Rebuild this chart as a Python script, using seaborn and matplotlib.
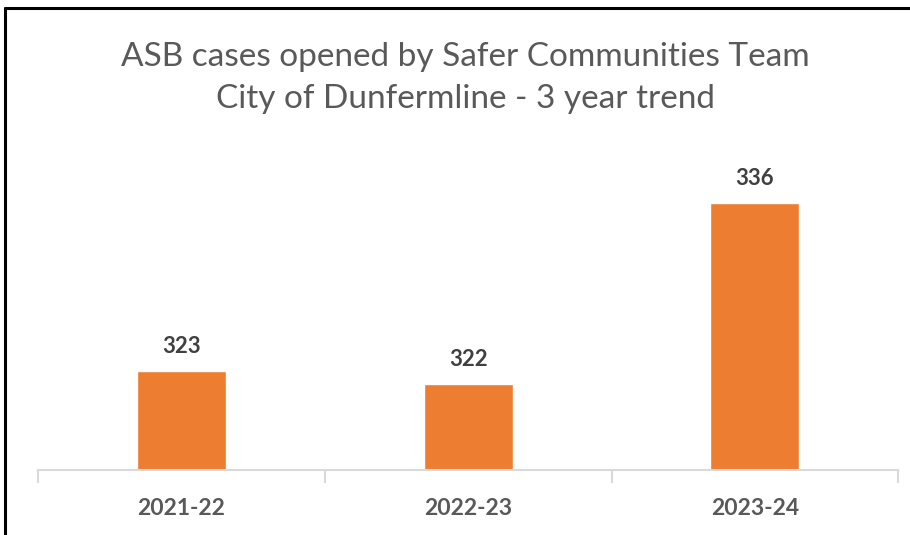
import numpy as np
import pandas as pd
import matplotlib
matplotlib.use("Agg")
import matplotlib.pyplot as plt
from matplotlib.lines import Line2D
import seaborn as sns

years = ["2021-22", "2022-23", "2023-24"]
cases = [323, 322, 336]
title = "ASB cases opened by Safer Communities Team\nCity of Dunfermline - 3 year trend"

sns.set_style("white")
plt.rcParams["font.family"] = ["Lato", "DejaVu Sans"]

df = pd.DataFrame({"year": years, "cases": cases})

fig = plt.figure(figsize=(9.1, 5.35), dpi=100)
ax = fig.add_axes([0.042, 0.1215, 0.945, 0.597])
sns.barplot(data=df, x="year", y="cases", color="#ED7D31", width=0.31,
            saturation=1, ax=ax)

ax.set_ylim(315.4, 340)
ax.set_xlim(-0.5, 2.5)
ax.bar_label(ax.containers[0], padding=10, fontsize=16, fontweight="bold",
             color="#404040")

ax.set_xlabel("")
ax.set_ylabel("")
ax.set_yticks([])
for s in ["top", "right", "left"]:
    ax.spines[s].set_visible(False)
ax.spines["bottom"].set_color("#D9D9D9")
ax.spines["bottom"].set_linewidth(1.5)

ax.set_xticks([-0.5, 0.5, 1.5, 2.5], minor=True)
ax.tick_params(axis="x", which="minor", bottom=True, length=9, width=1.5,
               color="#D9D9D9")
ax.tick_params(axis="x", which="major", bottom=False, length=0, pad=20,
               labelsize=16.5, labelcolor="#595959")
for lab in ax.get_xticklabels():
    lab.set_fontweight("bold")

fig.text(0.511, 0.855, title, ha="center", va="center", fontsize=24,
         color="#595959", linespacing=1.5)

# frame of the pasted chart
fig.add_artist(Line2D([0.006, 0.006], [0, 0.985], color="black", lw=2.2,
                      transform=fig.transFigure))
fig.add_artist(Line2D([0.006, 1], [0.985, 0.985], color="black", lw=2.2,
                      transform=fig.transFigure))

fig.savefig("out.png", dpi=100)
